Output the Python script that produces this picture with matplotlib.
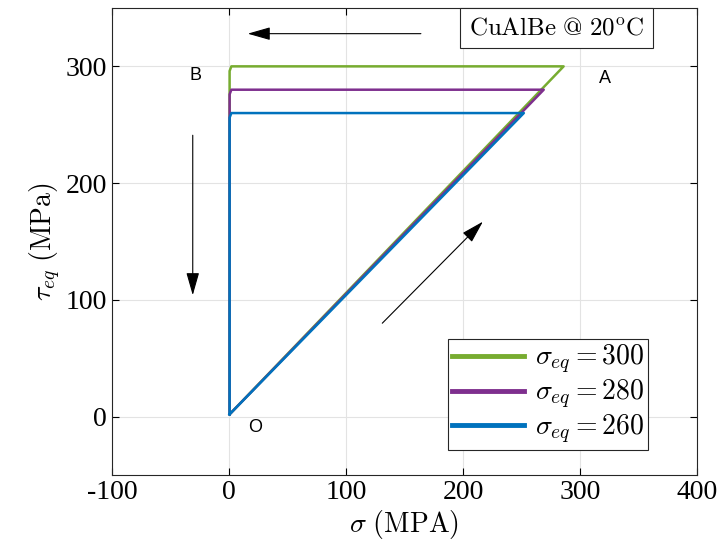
import numpy as np
import matplotlib.pyplot as plt

plt.rcParams['mathtext.fontset'] = 'cm'
plt.rcParams['font.family'] = 'Liberation Serif'
plt.rcParams['axes.unicode_minus'] = False

# loop vertices O -> A -> B -> O for each sigma_eq
levels = [300, 280, 260]
green_x = [0.5, 286, 2, 0.5, 0.5]
green_y = [2, 300, 300, 296, 2]
purple_x = [0.5, 269, 2, 0.5, 0.5]
purple_y = [2, 280, 280, 276, 2]
blue_x = [0.5, 252, 2, 0.5, 0.5]
blue_y = [2, 260, 260, 256, 2]

colors = ['#77AC30', '#7E2F8E', '#0072BD']

fig = plt.figure(figsize=(7.19, 5.54), dpi=100)
ax = fig.add_axes([0.1558, 0.1426, 0.8136, 0.843])

series = [(green_x, green_y), (purple_x, purple_y), (blue_x, blue_y)]
for (xs, ys), lev, c in zip(series, levels, colors):
    ax.plot(xs, ys, color=c, lw=1.8, label=r'$\sigma_{eq} = %d$' % lev)

ax.set_xlim(-100, 400)
ax.set_ylim(-50, 350)
ax.set_xticks([-100, 0, 100, 200, 300, 400])
ax.set_yticks([0, 100, 200, 300])
ax.tick_params(direction='in', labelsize=20, length=5, width=0.8, top=True, right=True)
ax.grid(True, color='#e3e3e3', lw=0.8)
for s in ax.spines.values():
    s.set_linewidth(0.8)
    s.set_color('#262626')

ax.set_xlabel(r'$\sigma\ \mathrm{(MPA)}$', fontsize=20, labelpad=2)
ax.set_ylabel(r'$\tau_{eq}\ \mathrm{(MPa)}$', fontsize=20, labelpad=2)

leg = ax.legend(loc='lower right', bbox_to_anchor=(0.917, 0.054), fontsize=20,
                frameon=True, fancybox=False, edgecolor='#262626', framealpha=1,
                handlelength=2.6, handletextpad=0.4, labelspacing=0.05,
                borderpad=0.15, borderaxespad=0)
for line in leg.get_lines():
    line.set_linewidth(3.5)
leg.get_frame().set_linewidth(0.8)

ax.text(0.61, 0.957, r'$\mathrm{CuAlBe\ @\ 20^{o}C}$', transform=ax.transAxes,
        fontsize=18, va='center', ha='left',
        bbox=dict(boxstyle='square,pad=0.35', fc='white', ec='#262626', lw=0.8))

# arrows
arrow_kw = dict(arrowstyle='-|>,head_length=1.4,head_width=0.4', lw=0.8, color='black',
                shrinkA=0, shrinkB=0)
ax.annotate('', xy=(16, 328), xytext=(164, 328), arrowprops=arrow_kw)
ax.annotate('', xy=(-31, 104), xytext=(-31, 241), arrowprops=arrow_kw)
ax.annotate('', xy=(217, 167), xytext=(131, 80), arrowprops=arrow_kw)

ax.text(-29, 292, 'B', fontsize=13, family='Liberation Sans', ha='center', va='center')
ax.text(321, 290, 'A', fontsize=13, family='Liberation Sans', ha='center', va='center')
ax.text(22, -9, 'O', fontsize=13, family='Liberation Sans', ha='center', va='center')

fig.savefig('out.png', dpi=100)
